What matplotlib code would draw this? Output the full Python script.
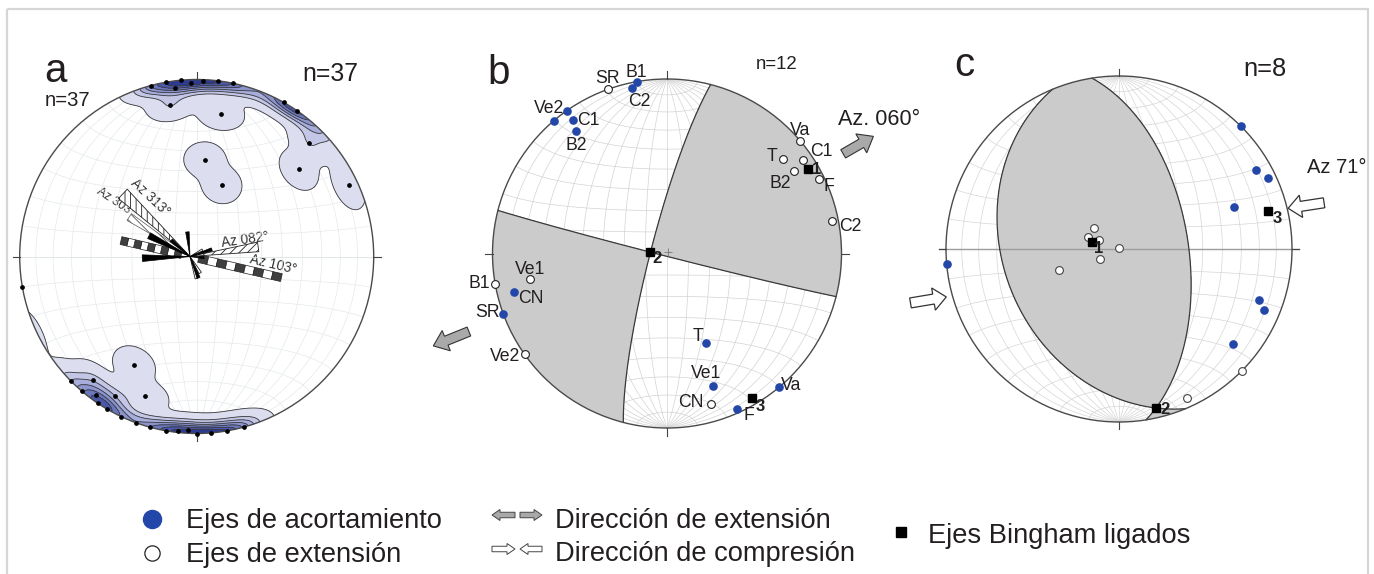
import numpy as np
import matplotlib
matplotlib.use('Agg')
import matplotlib.pyplot as plt
from matplotlib.patches import Circle, Polygon, FancyArrow, Rectangle

plt.rcParams['font.family'] = ['Liberation Sans', 'DejaVu Sans']
plt.rcParams['hatch.linewidth'] = 0.6

W, H = 1374, 574
BLUE = '#2347a8'
TXT = '#231f20'

# ---------------- DATA ----------------
# Panel a : contoured poles (trend, plunge)
a_trend = [345, 350, 355, 352.6, 350, 11.8, 9.6, 29.5, 34.5, 44.8, 49.6, 64.7, 4.9, 19.2,
           225.2, 220.3, 220.1, 210.3, 210.2, 200.3, 210.3, 205.2, 195.3, 190.1,
           180, 175.4, 170.3, 164.5, 2, 7, 183, 214, 216, 186, 200, 358]
a_plunge = [0, 0, 0, 4.2, 14.4, 0, 19.3, 0, 0, 10.6, 25.0, 5.6, 44.3, 54.6,
            0, 0, 9.7, 9.6, 30, 17.1, 0, 0, 0, 0,
            0, 0, 0, 0, 1, 0, 2, 0, 4, 1, 0, 2]
# isolated pole on the W rim (plotted, outside the contoured clusters)
a_extra_trend = [260.2]
a_extra_plunge = [0]
a_levels = [0.16, 1.1, 1.9, 2.7, 3.5, 4.3, 5.1]
a_colors = ['#dcddef', '#c3c7e5', '#a8aedb', '#8c94cd', '#6b77bd', '#4b58aa', '#2d3a94']

# rose diagram (azimuth, relative length)
rose_hatch_az = [313, 82, 148, 163, 62]
rose_hatch_len = [0.52, 0.39, 0.11, 0.13, 0.08]
rose_hatch_pat = ['|||', '////', '\\\\\\', '|||', '///']
rose_stripe_az = [303]
rose_stripe_len = [0.41]
rose_black_az = [268, 297, 354, 158, 72, 311, 95]
rose_black_len = [0.27, 0.26, 0.14, 0.13, 0.13, 0.14, 0.08]
rose_check_az = [103, 283]
rose_check_len = [0.53, 0.40]

# Panel b : kinematic axes per site
b_p_trend = [350, 348, 325, 319.5, 324.8, 323.4, 255.9, 249.8, 156.5, 161.0, 140.1, 155.7]
b_p_plunge = [0, 3.3, 0, 0, 7.3, 13.7, 10.7, 0, 43.3, 20.8, 0, 2.3]
b_p_labels = ['B1', 'C2', 'Ve2', '', 'C1', 'B2', 'CN', 'SR', 'T', 'Ve1', 'Va', 'F']
b_t_trend = [340.3, 49.9, 55.4, 51.0, 56.9, 63.8, 78.8, 259.3, 260.1, 234.7, 163.8]
b_t_plunge = [0, 0, 6.2, 15.3, 14.2, 3.1, 3.9, 21.2, 0, 0, 11.0]
b_t_labels = ['SR', 'Va', 'C1', 'T', 'B2', 'F', 'C2', 'Ve1', 'B1', 'Ve2', 'CN']
b_bing_trend = [59.1, 274.0, 149.7]
b_bing_plunge = [6.3, 82.1, 4.4]
b_bing_labels = ['1', '2', '3']
b_plane_strike = [194.5, 104.3]
b_plane_dip = [82.4, 88.7]

# Panel c
c_p_trend = [44.9, 59.9, 64.6, 69.8, 265.0, 109.9, 112.8, 130.0]
c_p_plunge = [0, 9.6, 5.4, 29.9, 0, 15.0, 9.8, 15.3]
c_t_trend = [310.7, 290.8, 294.2, 0, 242.2, 250.6, 155.3, 134.8]
c_t_plunge = [74.7, 74.6, 79.7, 89.5, 79.9, 60.0, 6.0, 0]
c_bing_trend = [284.9, 167.0, 75.6]
c_bing_plunge = [76.7, 6.1, 11.9]
c_bing_labels = ['1', '2', '3']
c_plane_strike = [157.4, 351.0]
c_plane_dip = [33.7, 57.1]

# ---------------- layout (pixels) ----------------
b_p_off = [(0, -9), (8, 14), (-18, -2), None, (15, 0), (0, 14), (17, 7), (-16, -1),
           (-8, -7), (-7, -12), (12, -2), (12, 6)]
b_t_off = [(-1, -11), (0, -11), (19, -8), (-11, -3), (-14, 13), (10, 8), (18, 6),
           (0, -10), (-16, 0), (-20, 2), (-20, -2)]
b_bing_off = [(8, 1), (7, 6), (9, 8)]
c_bing_off = [(7, 7), (9, 1), (9, 8)]


# ---------------- projection helpers ----------------
def vec(trend, plunge):
    t = np.radians(np.asarray(trend, float))
    p = np.radians(np.asarray(plunge, float))
    return np.array([np.cos(p) * np.cos(t), np.cos(p) * np.sin(t), np.sin(p)])


def proj(v):
    N, E, D = v
    s = np.where(D < -1e-9, -1.0, 1.0)
    N, E, D = N * s, E * s, D * s
    f = 1.0 / np.sqrt(1.0 + D)
    return E * f, N * f


def proj_tp(trend, plunge):
    return proj(vec(trend, plunge))


def great_circle(strike, dip, n=241):
    s = np.radians(strike)
    d = np.radians(dip)
    sv = np.array([np.cos(s), np.sin(s), 0.0])
    dv = np.array([np.cos(d) * np.cos(s + np.pi / 2), np.cos(d) * np.sin(s + np.pi / 2), np.sin(d)])
    th = np.linspace(0, np.pi, n)
    v = np.outer(sv, np.cos(th)) + np.outer(dv, np.sin(th))
    v[2] = np.clip(v[2], 0, None)
    return proj(v)


def small_circle(beta, sign, n=241):
    b = np.radians(beta)
    ph = np.linspace(0, np.pi, n)
    v = np.array([sign * np.cos(b) * np.ones_like(ph), np.sin(b) * np.cos(ph), np.sin(b) * np.sin(ph)])
    return proj(v)


def grid_vectors(n=501, lim=1.03):
    xs = np.linspace(-lim, lim, n)
    X, Y = np.meshgrid(xs, xs)
    r = np.sqrt(X ** 2 + Y ** 2)
    rc = np.minimum(r, 1.0)
    sc = np.where(r > 0, rc / np.maximum(r, 1e-12), 0)
    Xc, Yc = X * sc, Y * sc
    D = 1 - rc ** 2
    f = np.sqrt(1 + D)
    return X, Y, np.stack([Yc * f, Xc * f, D])


def make_ax(cx, cy, R, L=1.75):
    ax = fig.add_axes([(cx - L * R) / W, (H - (cy + L * R)) / H, 2 * L * R / W, 2 * L * R / H])
    ax.set_xlim(-L, L)
    ax.set_ylim(-L, L)
    ax.axis('off')
    return ax


def draw_net(ax, color, diam_color=None, lw=0.5):
    for dip in range(10, 90, 10):
        for st in (0, 180):
            x, y = great_circle(st, dip)
            ax.plot(x, y, color=color, lw=lw, zorder=1)
    for beta in range(10, 90, 10):
        for sg in (1, -1):
            x, y = small_circle(beta, sg)
            ax.plot(x, y, color=color, lw=lw, zorder=1)
    dc = diam_color or color
    ax.plot([0, 0], [-1, 1], color=color, lw=lw, zorder=1)
    ax.plot([-1, 1], [0, 0], color=dc, lw=lw, zorder=1)


def draw_frame(ax, tick_color='#444', ext=0.045, ew_full=False, ew_color='#999'):
    ax.add_patch(Circle((0, 0), 1.0, fill=False, ec='#4a4a4a', lw=1.0, zorder=6))
    for az in (0, 90, 180, 270):
        a = np.radians(az)
        ax.plot([np.sin(a) * 1.0, np.sin(a) * (1 + ext)], [np.cos(a) * 1.0, np.cos(a) * (1 + ext)],
                color=tick_color, lw=0.8, zorder=6)
    if ew_full:
        ax.plot([-1 - ext, 1 + ext], [0, 0], color=ew_color, lw=1.0, zorder=3)


def shade_planes(ax, strikes, dips, ref, color):
    X, Y, G = grid_vectors()
    p1 = vec(strikes[0] - 90, 90 - dips[0])
    p2 = vec(strikes[1] - 90, 90 - dips[1])
    prod = np.tensordot(p1, G, axes=1) * np.tensordot(p2, G, axes=1)
    rv = vec(*ref)
    sign = np.sign(np.dot(p1, rv) * np.dot(p2, rv))
    cs = ax.contourf(X, Y, prod * sign, levels=[0, 10], colors=[color], zorder=2)
    cs.set_clip_path(Circle((0, 0), 1.0, transform=ax.transData))
    for st, dp in zip(strikes, dips):
        x, y = great_circle(st, dp)
        ax.plot(x, y, color='#3a3a3a', lw=0.9, zorder=4)


def label_pts(ax, x, y, labels, offs, size=12.7, weight='normal'):
    for xi, yi, lab, off in zip(x, y, labels, offs):
        if not lab or off is None:
            continue
        ax.annotate(lab, (xi, yi), xytext=(off[0] * 0.72, -off[1] * 0.72), textcoords='offset points',
                    ha='center', va='center', fontsize=size, color=TXT, fontweight=weight, zorder=9)


fig = plt.figure(figsize=(W / 100, H / 100), dpi=100)

# overlay axes in pixel coordinates
ax0 = fig.add_axes([0, 0, 1, 1])
ax0.set_xlim(0, W)
ax0.set_ylim(H, 0)
ax0.axis('off')
ax0.add_patch(Rectangle((7, 9), 1361, 700, fill=False, ec='#d6d6d6', lw=1.6))

# ================= Panel a =================
axa = make_ax(196.7, 256.5, 177)
draw_net(axa, '#e4e9ec', lw=0.5)
X, Y, G = grid_vectors()
P = vec(a_trend, a_plunge)
dots = np.abs(np.tensordot(G.transpose(1, 2, 0), P, axes=1))
dens = np.exp(150 * (dots - 1)).sum(axis=-1)
cf = axa.contourf(X, Y, dens, levels=a_levels + [1e9], colors=a_colors, zorder=2)
cf.set_clip_path(Circle((0, 0), 1.0, transform=axa.transData))
cl = axa.contour(X, Y, dens, levels=a_levels, colors='#3a3a3a', linewidths=0.6, zorder=3)
cl.set_clip_path(Circle((0, 0), 1.0, transform=axa.transData))
ax_x, ax_y = proj_tp(a_trend, a_plunge)
axa.plot(ax_x, ax_y, 'o', ms=2.4, color='black', zorder=7, clip_on=False)
ex_x, ex_y = proj_tp(a_extra_trend, a_extra_plunge)
axa.plot(ex_x, ex_y, 'o', ms=2.4, color='black', zorder=7, clip_on=False)
draw_frame(axa, ext=0.04)
axa.plot([-1.04, 1.04], [0, 0], color='#dfe5e8', lw=0.6, zorder=1)

# rose diagram
rc = np.array([-0.038, 0.0])


def petal(ax, az, L, hw, **kw):
    a0, a1 = np.radians(az - hw), np.radians(az + hw)
    pts = [rc, rc + L * np.array([np.sin(a0), np.cos(a0)]), rc + L * np.array([np.sin(a1), np.cos(a1)])]
    ax.add_patch(Polygon(pts, closed=True, **kw))


def check_bar(ax, az, L, w, nseg):
    a = np.radians(az)
    u = np.array([np.sin(a), np.cos(a)])
    nv = np.array([np.cos(a), -np.sin(a)])
    edges = np.linspace(0.05, L, nseg + 1)
    for i in range(nseg):
        s0, s1 = edges[i], edges[i + 1]
        pts = [rc + u * s0 + nv * w / 2, rc + u * s1 + nv * w / 2, rc + u * s1 - nv * w / 2, rc + u * s0 - nv * w / 2]
        col = '#3f3f3f' if (nseg - 1 - i) % 2 == 0 else 'white'
        ax.add_patch(Polygon(pts, closed=True, fc=col, ec='#222', lw=0.5, zorder=8))


for az, L in zip(rose_check_az, rose_check_len):
    check_bar(axa, az, L, 0.045, 9)
for az, L, pat in zip(rose_hatch_az, rose_hatch_len, rose_hatch_pat):
    petal(axa, az, L, 4.0, fc='white', ec='#222', hatch=pat, lw=0.6, zorder=8)
for az, L in zip(rose_stripe_az, rose_stripe_len):
    petal(axa, az, L, 3.2, fc='white', ec='#555', hatch='\\\\\\\\', lw=0.5, zorder=8)
for az, L in zip(rose_black_az, rose_black_len):
    petal(axa, az, L, 4.0, fc='black', ec='black', lw=0.5, zorder=9)

ax0.text(150, 197.5, 'Az 313°', rotation=-43, ha='center', va='center', fontsize=9.8, color='#333', rotation_mode='anchor')
ax0.text(116, 202.5, 'Az 303°', rotation=-33, ha='center', va='center', fontsize=8.8, color='#333', rotation_mode='anchor')
ax0.text(245, 239.3, 'Az 082°', rotation=8, ha='center', va='center', fontsize=9.8, color='#333', rotation_mode='anchor')
ax0.text(273, 264, 'Az 103°', rotation=-13, ha='center', va='center', fontsize=9.8, color='#333', rotation_mode='anchor')

# ================= Panel b =================
axb = make_ax(667, 253.5, 174.5)
draw_net(axb, '#d3d3d3', lw=0.5)
shade_planes(axb, b_plane_strike, b_plane_dip, (b_bing_trend[0], b_bing_plunge[0]), '#cbcbcb')
draw_frame(axb, ext=0.045)
axb.plot(0.008, 0.007, '+', ms=6, color='#777', mew=0.6, zorder=5)
bx, by = proj_tp(b_p_trend, b_p_plunge)
axb.plot(bx, by, 'o', ms=5.2, color=BLUE, zorder=7, clip_on=False)
label_pts(axb, bx, by, b_p_labels, b_p_off)
tx, ty = proj_tp(b_t_trend, b_t_plunge)
axb.plot(tx, ty, 'o', ms=5.6, mfc='white', mec='#222', mew=0.8, zorder=7, clip_on=False)
label_pts(axb, tx, ty, b_t_labels, b_t_off)
sx, sy = proj_tp(b_bing_trend, b_bing_plunge)
axb.plot(sx, sy, 's', ms=6, color='black', zorder=8)
label_pts(axb, sx, sy, b_bing_labels, b_bing_off, size=12, weight='bold')


def arrow_az(ax, az_dir, r0, az_pos, length, fc):
    a = np.radians(az_pos)
    d = np.radians(az_dir)
    x0, y0 = r0 * np.sin(a), r0 * np.cos(a)
    ax.add_patch(FancyArrow(x0, y0, length * np.sin(d), length * np.cos(d), width=0.055, head_width=0.125,
                            head_length=0.08, length_includes_head=True, fc=fc, ec='#333', lw=0.8, zorder=9,
                            clip_on=False))


arrow_az(axb, 60, 1.16, 60.5, 0.20, '#a9a9a9')
arrow_az(axb, 248, 1.22, 248.5, 0.22, '#a9a9a9')

# ================= Panel c =================
axc = make_ax(1119, 249, 173)
draw_net(axc, '#d6d6d6', lw=0.5)
shade_planes(axc, c_plane_strike, c_plane_dip, (c_bing_trend[0], c_bing_plunge[0]), '#cbcbcb')
draw_frame(axc, ext=0.04, ew_full=True, ew_color='#9d9d9d')
cx_, cy_ = proj_tp(c_p_trend, c_p_plunge)
axc.plot(cx_, cy_, 'o', ms=5.2, color=BLUE, zorder=7, clip_on=False)
ctx, cty = proj_tp(c_t_trend, c_t_plunge)
axc.plot(ctx, cty, 'o', ms=5.6, mfc='white', mec='#444', mew=0.8, zorder=7, clip_on=False)
csx, csy = proj_tp(c_bing_trend, c_bing_plunge)
axc.plot(csx, csy, 's', ms=6, color='black', zorder=8)
label_pts(axc, csx, csy, c_bing_labels, c_bing_off, size=12, weight='bold')

# compression arrows (tail -> head)
for tail_az, tail_r, dir_az in ((255.5, 1.245, 80.5), (77.3, 1.215, 261.3)):
    a = np.radians(tail_az)
    d = np.radians(dir_az)
    x0, y0 = tail_r * np.sin(a), tail_r * np.cos(a)
    axc.add_patch(FancyArrow(x0, y0, 0.21 * np.sin(d), 0.21 * np.cos(d), width=0.058, head_width=0.13,
                             head_length=0.075, length_includes_head=True, fc='white', ec='#333', lw=0.9,
                             zorder=9, clip_on=False))

# ================= texts =================
ax0.text(55, 81.7, 'a', ha='center', va='baseline', fontsize=29, color=TXT)
ax0.text(499, 84.3, 'b', ha='center', va='baseline', fontsize=29, color=TXT)
ax0.text(964, 76, 'c', ha='center', va='baseline', fontsize=29, color=TXT)
ax0.text(330, 80.7, 'n=37', ha='center', va='baseline', fontsize=17.8, color=TXT)
ax0.text(68, 106, 'n=37', ha='center', va='baseline', fontsize=14.6, color=TXT)
ax0.text(777, 69.3, 'n=12', ha='center', va='baseline', fontsize=13.4, color=TXT)
ax0.text(1265, 76, 'n=8', ha='center', va='baseline', fontsize=18.4, color=TXT)
ax0.text(838, 125, 'Az. 060°', ha='left', va='baseline', fontsize=15.6, color=TXT)
ax0.text(1307, 172.7, 'Az 71°', ha='left', va='baseline', fontsize=14.5, color=TXT)

# ================= legend =================
FS = 19.6
ax0.plot(152, 519, 'o', ms=13, color=BLUE)
ax0.text(186, 528, 'Ejes de acortamiento', ha='left', va='baseline', fontsize=FS, color=TXT)
ax0.plot(152, 553, 'o', ms=11, mfc='white', mec='#222', mew=0.9)
ax0.text(186, 562, 'Ejes de extensión', ha='left', va='baseline', fontsize=FS, color=TXT)


def leg_arrow(x0, x1, y, fc):
    ax0.add_patch(FancyArrow(x0, y, x1 - x0, 0, width=5.5, head_width=11, head_length=8,
                             length_includes_head=True, fc=fc, ec='#444', lw=0.7))


leg_arrow(515, 492, 515, '#a9a9a9')
leg_arrow(520, 542, 515, '#a9a9a9')
ax0.text(555, 528.3, 'Dirección de extensión', ha='left', va='baseline', fontsize=FS, color=TXT)
leg_arrow(492, 515, 549, 'white')
leg_arrow(542, 520, 549, 'white')
ax0.text(555, 561, 'Dirección de compresión', ha='left', va='baseline', fontsize=FS, color=TXT)
ax0.plot(901, 532, 's', ms=7.5, color='black')
ax0.text(928, 543, 'Ejes Bingham ligados', ha='left', va='baseline', fontsize=FS, color=TXT)

fig.savefig('out.png', dpi=100)
